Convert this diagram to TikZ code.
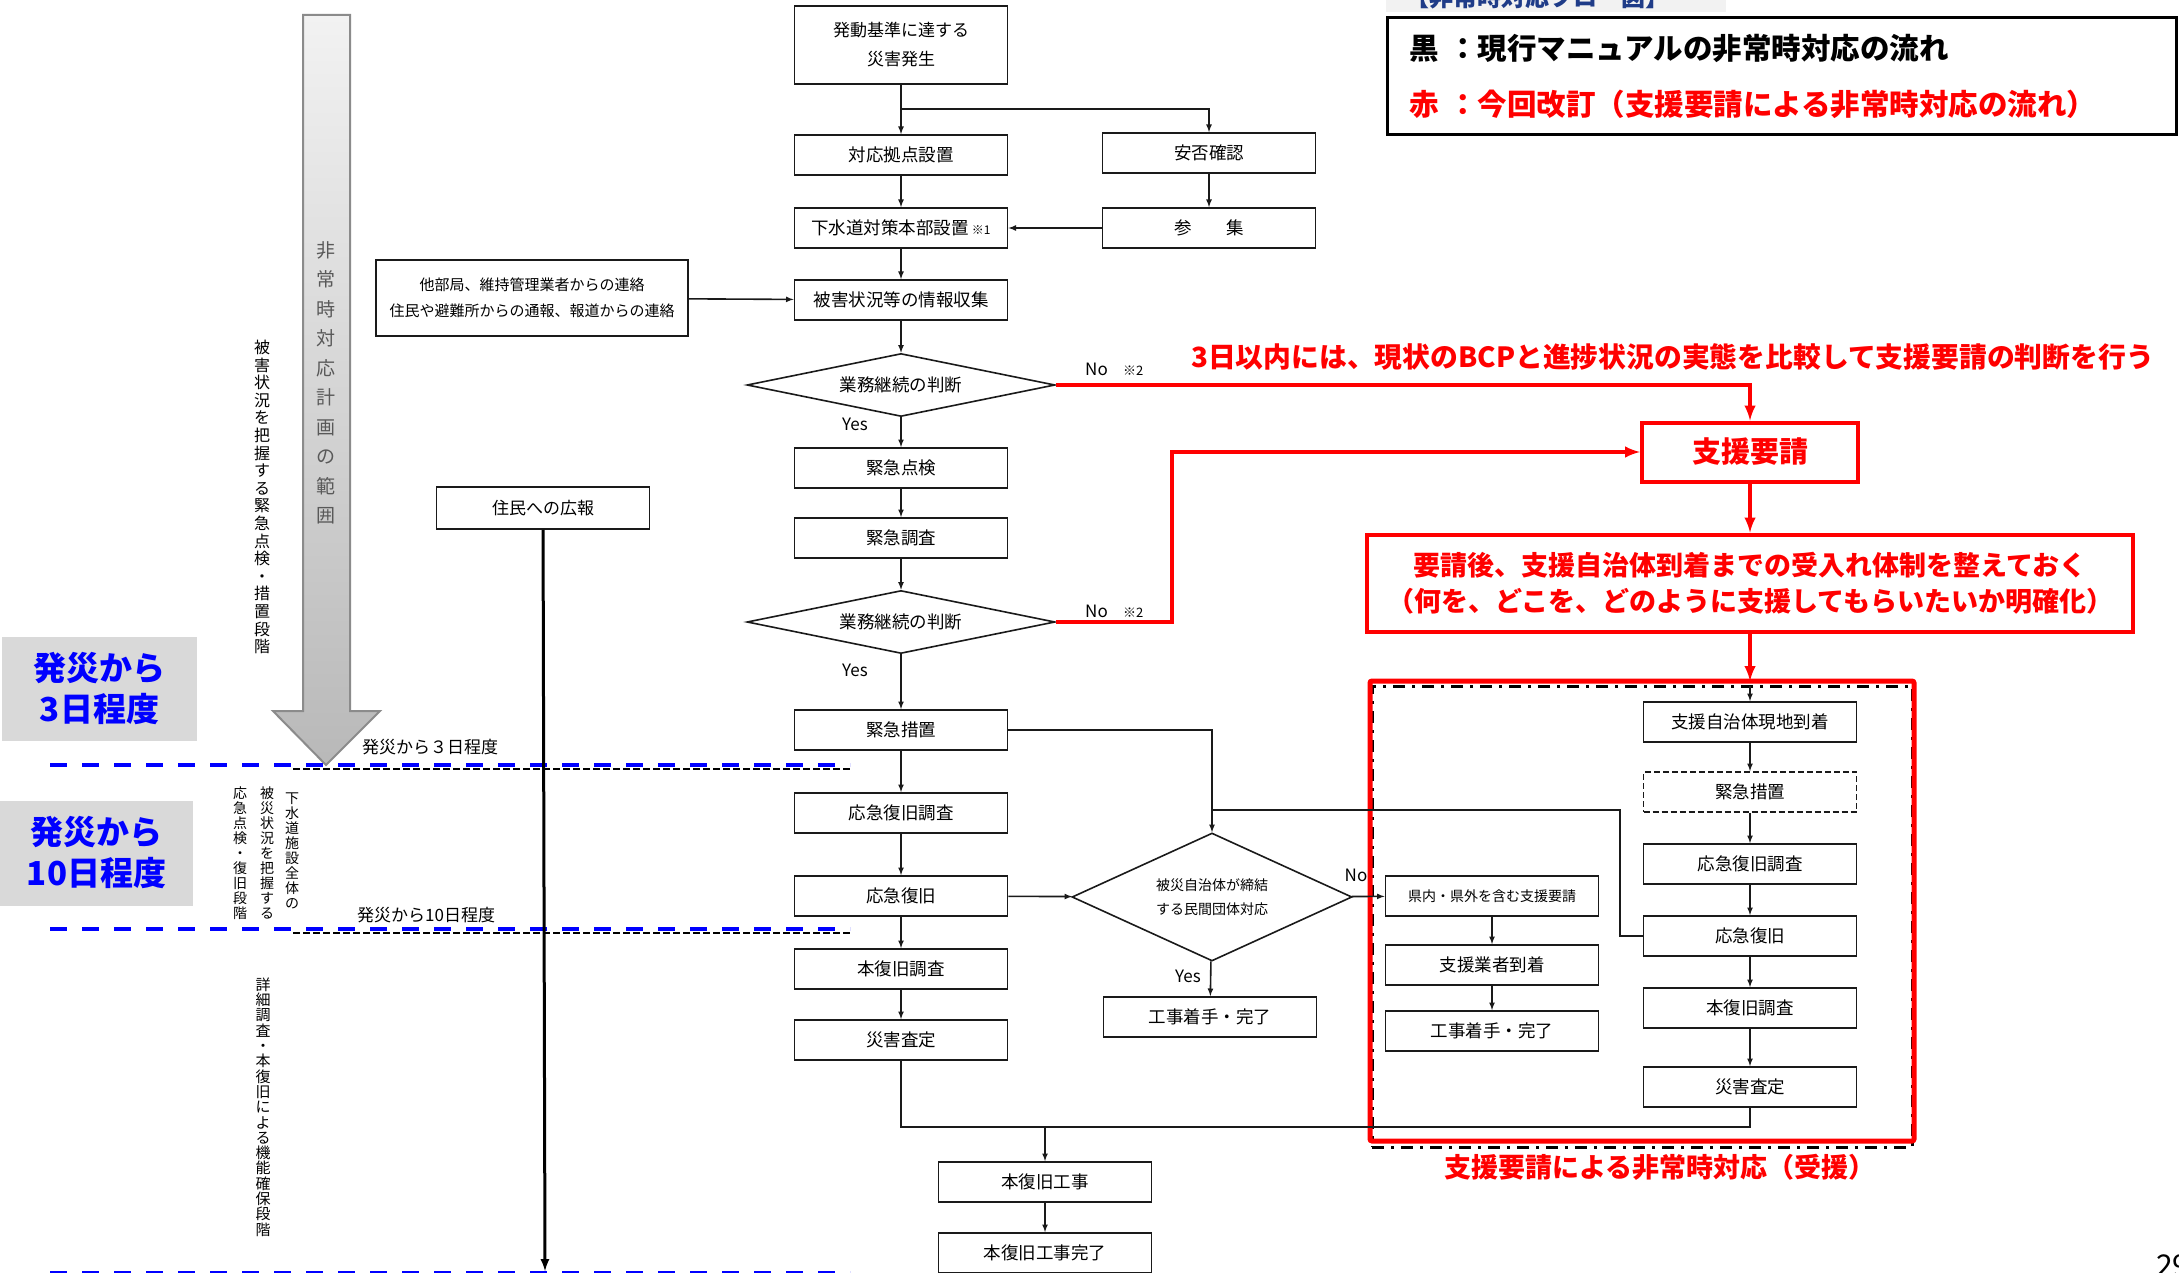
\documentclass[tikz,border=0pt]{standalone}
\usepackage{fontspec}
\setmainfont{Noto Sans CJK JP}
\usetikzlibrary{shapes, arrows.meta, positioning}
\definecolor{kred}{HTML}{FF0000}
\definecolor{kblue}{HTML}{0000FF}
\definecolor{kgray}{HTML}{D9D9D9}
\definecolor{kline}{HTML}{1A1A1A}
\definecolor{kbar}{HTML}{F2F2F2}
\definecolor{kbartext}{HTML}{1F3C88}
\definecolor{kdark}{HTML}{595959}
\newcommand{\fsz}[1]{\fontsize{#1}{#1}\selectfont}
\makeatletter
\newcommand{\tate}[2]{\vbox{\baselineskip=#1\lineskiplimit=-\maxdimen\@tfor\tate@c:=#2\do{\hbox to 1em{\hss\tate@c\hss}}}}
\makeatother
\tikzstyle{block}=[draw=kline,fill=white,rectangle,line width=1.8pt,minimum width=213pt,minimum height=40pt,inner sep=0pt,font=\fsz{17.5}]
\tikzstyle{decision}=[draw=kline,fill=white,diamond,line width=1.6pt,inner sep=0pt,font=\fsz{17.5}]
\tikzstyle{redbox}=[draw=kred,fill=white,rectangle,line width=4pt,inner sep=0pt,text=kred,align=center,font=\bfseries\fsz{29}]
\tikzstyle{flow}=[->,line width=1.6pt,draw=kline]
\tikzstyle{redflow}=[->,line width=4pt,draw=kred]
\tikzstyle{tag}=[inner sep=0pt,font=\fsz{17}]
\tikzstyle{tatetext}=[inner sep=0pt]
\tikzstyle{bluedash}=[draw=kblue,line width=4pt,dash pattern=on 17pt off 15pt]
\tikzstyle{blackdash}=[draw=black,line width=2.6pt,dash pattern=on 7pt off 3pt]
\tikzstyle{dayblock}=[fill=kgray,inner sep=0pt,align=center,text=kblue,font=\bfseries\fontsize{33}{41}\selectfont]
\begin{document}
\begin{tikzpicture}[x=1pt,y=1pt,>=latex]
    \useasboundingbox (0,0) rectangle (2179,-1273);
    % header strip, cut at the top edge
    \fill[kbar] (1386,0) rectangle (1726,-12);
    \begin{scope}
        \clip (1386,0) rectangle (1726,-12);
        \node[anchor=base west,inner sep=0pt,text=kbartext,font=\bfseries\fsz{24}] (bartext) at (1405,-7) {【非常時対応フロー図】};
    \end{scope}
    \node[draw=black,line width=3pt,minimum width=789pt,minimum height=117pt,text width=745pt,align=left,inner sep=0pt,font=\bfseries\fontsize{29.5}{56}\selectfont] (legend) at (1781.5,-76.5) {黒\ ：現行マニュアルの非常時対応の流れ\\\textcolor{kred}{赤\ ：今回改訂（支援要請による非常時対応の流れ）}};

    % scope arrow and phases
    \shade[top color=kbar,bottom color=kgray!85!black,draw=kdark!70,line width=2pt] (303,-15) -- (350,-15) -- (350,-711) -- (380,-711) -- (326,-765) -- (273,-711) -- (303,-711) -- cycle;
    \node[tatetext,text=kdark,font=\fsz{19}] (scope) at (326,-383) {\tate{29.5pt}{非常時対応計画の範囲}};
    \node[tatetext,font=\fsz{16}] (phase1) at (262,-497) {\tate{17.6pt}{被害状況を把握する緊急点検・措置段階}};
    \node[tatetext,anchor=north,font=\fsz{14}] (phase2a) at (292,-793) {\tate{15pt}{下水道施設全体の}};
    \node[tatetext,anchor=north,font=\fsz{14}] (phase2b) at (267,-787) {\tate{15pt}{被災状況を把握する}};
    \node[tatetext,anchor=north,font=\fsz{14}] (phase2c) at (240,-787) {\tate{15pt}{応急点検・復旧段階}};
    \node[tatetext,font=\fsz{15}] (phase3) at (263,-1107) {\tate{15.3pt}{詳細調査・本復旧による機能確保段階}};
    \node[dayblock,minimum width=195pt,minimum height=104pt] (day3) at (99.5,-688.5) {発災から\\3日程度};
    \node[dayblock,minimum width=193pt,minimum height=105pt] (day10) at (96.5,-853) {発災から\\10日程度};
    \draw[bluedash] (50,-765) -- (850,-765);
    \draw[blackdash] (293,-769) -- (850,-769);
    \draw[bluedash] (50,-929) -- (850,-929);
    \draw[blackdash] (293,-933) -- (850,-933);
    \draw[bluedash] (50,-1273) -- (850,-1273);
    \node[tag,anchor=west] (d3lbl) at (362,-747) {発災から３日程度};
    \node[tag,anchor=west] (d10lbl) at (357,-915) {発災から10日程度};

    % current flow
    \node[block,minimum height=78pt,align=center,font=\fontsize{17}{29}\selectfont] (occur) at (901,-45) {発動基準に達する\\災害発生};
    \node[block,below of=occur,node distance=110pt] (base) {対応拠点設置};
    \node[block,below of=base,node distance=73pt] (hq) {下水道対策本部設置\,{\fsz{12}※1}};
    \node[block,below of=hq,node distance=72pt] (info) {被害状況等の情報収集};
    \node[decision,aspect=4.9,minimum width=308pt,minimum height=63pt,below of=info,node distance=85pt] (judge1) {業務継続の判断};
    \node[block,below of=judge1,node distance=83pt] (check) {緊急点検};
    \node[block,below of=check,node distance=70pt] (survey) {緊急調査};
    \node[decision,aspect=4.9,minimum width=308pt,minimum height=63pt,below of=survey,node distance=84pt] (judge2) {業務継続の判断};
    \node[block,below of=judge2,node distance=108pt] (measure) {緊急措置};
    \node[block,below of=measure,node distance=83pt] (rsurvey) {応急復旧調査};
    \node[block,below of=rsurvey,node distance=83pt] (repair) {応急復旧};
    \node[block,below of=repair,node distance=73pt] (fsurvey) {本復旧調査};
    \node[block,below of=fsurvey,node distance=71pt] (assess) {災害査定};
    \node[block] (safety) at (1209,-153) {安否確認};
    \node[block,below of=safety,node distance=75pt] (gather) {参\hspace{2em}集};
    \node[block,minimum width=312pt,minimum height=76pt,align=center,font=\fontsize{15}{26.5}\selectfont] (contact) at (532,-298) {他部局、維持管理業者からの連絡\\住民や避難所からの通報、報道からの連絡};
    \node[block,minimum height=42pt,font=\fsz{17}] (public) at (543,-508) {住民への広報};
    \node[decision,aspect=2.19,minimum width=280pt,minimum height=128pt,align=center,font=\fontsize{14}{23.5}\selectfont] (private) at (1212,-897) {被災自治体が締結\\する民間団体対応};
    \node[block] (work1) at (1210,-1017) {工事着手・完了};
    \node[block] (fwork) at (1045,-1182) {本復旧工事};
    \node[block,below of=fwork,node distance=71pt] (fdone) {本復旧工事完了};

    % support request (red)
    \node[redbox,minimum width=216pt,minimum height=59pt] (req) at (1750,-452) {支援要請};
    \node[redbox,minimum width=766pt,minimum height=97pt,font=\bfseries\fontsize{27}{36}\selectfont] (prep) at (1750,-583) {要請後、支援自治体到着までの受入れ体制を整えておく\\（何を、どこを、どのように支援してもらいたいか明確化）};
    \node[draw=black,line width=3pt,dash pattern=on 12pt off 7pt on 3pt off 7pt,minimum width=540pt,minimum height=461pt] (groupdash) at (1642,-916.5) {};
    \node[draw=kred,line width=5pt,rounded corners=2pt,minimum width=544pt,minimum height=460pt] (group) at (1642,-911) {};
    \node[text=kred,font=\bfseries\fsz{27}] (groupcap) at (1660,-1167) {支援要請による非常時対応（受援）};
    \node[block] (arrive) at (1750,-722) {支援自治体現地到着};
    \node[block,dash pattern=on 6pt off 3pt,below of=arrive,node distance=70pt] (smeasure) {緊急措置};
    \node[block,below of=smeasure,node distance=72pt] (srsurvey) {応急復旧調査};
    \node[block,below of=srsurvey,node distance=72pt] (srepair) {応急復旧};
    \node[block,below of=srepair,node distance=72pt] (sfsurvey) {本復旧調査};
    \node[block,below of=sfsurvey,node distance=79pt] (sassess) {災害査定};
    \node[block,font=\fsz{14}] (areq) at (1492,-896) {県内・県外を含む支援要請};
    \node[block,below of=areq,node distance=69pt] (vendor) {支援業者到着};
    \node[block,below of=vendor,node distance=66pt] (work2) {工事着手・完了};

    % labels
    \node[tag] (yes1) at (855,-424) {Yes};
    \node[tag] (yes2) at (855,-670) {Yes};
    \node[tag] (yes3) at (1188,-976) {Yes};
    \node[tag] (no3) at (1356,-875) {No};
    \node[tag,anchor=west] (no1) at (1085,-369) {No\hspace{0.9em}{\fsz{13}※2}};
    \node[tag,anchor=west] (no2) at (1085,-611) {No\hspace{0.9em}{\fsz{13}※2}};
    \node[anchor=west,inner sep=0pt,text=kred,font=\bfseries\fsz{27.8}] (within3) at (1191,-357) {3日以内には、現状のBCPと進捗状況の実態を比較して支援要請の判断を行う};
    \node[anchor=west,inner sep=0pt,font=\fsz{30}] (pageno) at (2156,-1266) {29};

    % connectors
    \coordinate (fork) at (901,-109);
    \coordinate (bend1) at (1172,-622);
    \coordinate (bend2) at (1620,-810);
    \coordinate (join) at (1212,-810);
    \coordinate (merge) at (1045,-1127);
    \coordinate (gtop) at (1750,-681);
    \coordinate (gin) at (1750,-686);
    \coordinate (pend) at (545,-1271);
    \draw[flow] (occur) -- (base);
    \draw[flow] (fork) -| (safety);
    \draw[flow] (safety) -- (gather);
    \draw[flow] (gather) -- (hq);
    \draw[flow] (base) -- (hq);
    \draw[flow] (hq) -- (info);
    \draw[flow] (contact) -- (info);
    \draw[flow] (info) -- (judge1);
    \draw[flow] (judge1) -- (check);
    \draw[flow] (check) -- (survey);
    \draw[flow] (survey) -- (judge2);
    \draw[flow] (judge2) -- (measure);
    \draw[flow] (measure) -- (rsurvey);
    \draw[flow] (rsurvey) -- (repair);
    \draw[flow] (repair) -- (fsurvey);
    \draw[flow] (fsurvey) -- (assess);
    \draw[flow] (measure) -| (private);
    \draw[flow] (repair) -- (private);
    \draw[flow] (private) -- (areq);
    \draw[flow] (private) -- (work1);
    \draw[flow] (areq) -- (vendor);
    \draw[flow] (vendor) -- (work2);
    \draw[flow] (gin) -- (arrive);
    \draw[flow] (arrive) -- (smeasure);
    \draw[flow] (smeasure) -- (srsurvey);
    \draw[flow] (srsurvey) -- (srepair);
    \draw[flow] (srepair) -- (sfsurvey);
    \draw[flow] (sfsurvey) -- (sassess);
    \draw[line width=1.6pt,draw=kline] (srepair) -| (bend2) -- (join);
    \draw[line width=1.6pt,draw=kline] (assess) |- (merge);
    \draw[line width=1.6pt,draw=kline] (sassess) |- (merge);
    \draw[flow] (merge) -- (fwork);
    \draw[flow] (fwork) -- (fdone);
    \draw[->,line width=3pt] (public) -- (pend);
    \draw[redflow] (judge1) -| (req);
    \draw[redflow] (judge2) -- (bend1) |- (req);
    \draw[redflow] (req) -- (prep);
    \draw[redflow] (prep) -- (gtop);
\end{tikzpicture}
\end{document}
